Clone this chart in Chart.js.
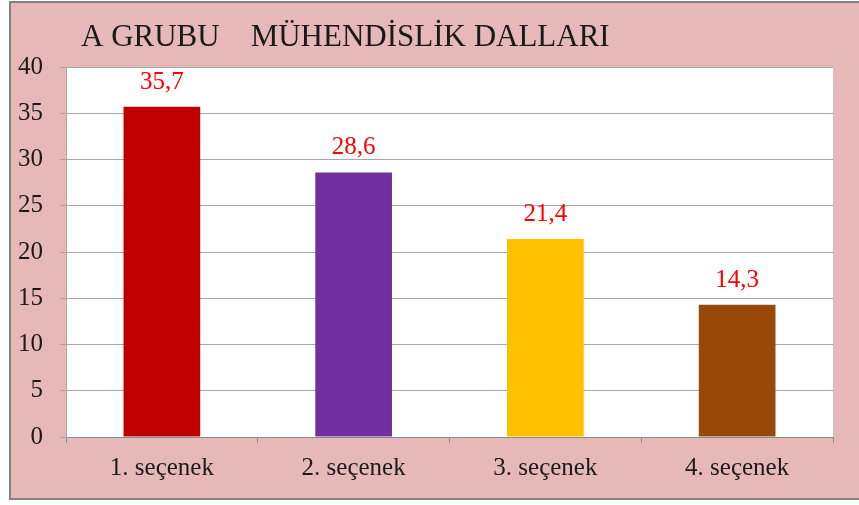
<!DOCTYPE html>
<html>
<head>
<meta charset="utf-8">
<script src="https://cdn.jsdelivr.net/npm/chart.js@4"></script>
<style>
    body { margin: 0; background: #fff; }
    .frame {
        position: absolute;
        left: 9px;
        top: 1px;
        width: 850px;
        height: 499px;
        box-sizing: border-box;
        background: #e6b9b8;
        border-left: 2px solid #808080;
        border-top: 2px solid #808080;
        border-bottom: 2px solid #808080;
    }
    .chart-box {
        position: absolute;
        left: 0;
        top: 0;
        width: 859px;
        height: 505px;
    }
</style>
</head>
<body>
<div class="frame"></div>
<div class="chart-box"><canvas id="grupChart"></canvas></div>
<script>
const categories = ['1. seçenek', '2. seçenek', '3. seçenek', '4. seçenek'];
const values = [35.7, 28.6, 21.4, 14.3];
const barColors = ['#c00000', '#7030a0', '#ffc000', '#984807'];
const yTicks = [0, 5, 10, 15, 20, 25, 30, 35, 40];
const titleText = 'A GRUBU    MÜHENDİSLİK DALLARI';

Chart.defaults.font.family = '"Liberation Serif", "Times New Roman", serif';

// white plot area behind the grid
const plotBackground = {
    id: 'plotBackground',
    beforeDraw(chart) {
        const { ctx, chartArea } = chart;
        ctx.save();
        ctx.fillStyle = '#ffffff';
        ctx.fillRect(chartArea.left, chartArea.top, chartArea.right - chartArea.left, chartArea.bottom - chartArea.top);
        ctx.restore();
    }
};

// left aligned title like the original
const titleDraw = {
    id: 'titleDraw',
    afterDraw(chart) {
        const ctx = chart.ctx;
        ctx.save();
        ctx.font = '31px "Liberation Serif"';
        ctx.fillStyle = '#1a1a1a';
        ctx.textAlign = 'left';
        ctx.textBaseline = 'alphabetic';
        ctx.fillText(titleText, 81, 46);
        ctx.restore();
    }
};

const valueLabels = {
    id: 'valueLabels',
    afterDatasetsDraw(chart) {
        const ctx = chart.ctx;
        const meta = chart.getDatasetMeta(0);
        ctx.save();
        ctx.font = '25px "Liberation Serif"';
        ctx.fillStyle = '#ff0000';
        ctx.textAlign = 'center';
        ctx.textBaseline = 'alphabetic';
        meta.data.forEach((bar, i) => {
            ctx.fillText(String(values[i]).replace('.', ','), bar.x, bar.y - 18);
        });
        ctx.restore();
    }
};

const ctx = document.getElementById('grupChart').getContext('2d');
new Chart(ctx, {
    type: 'bar',
    data: {
        labels: categories,
        datasets: [{
            data: values,
            backgroundColor: barColors,
            borderWidth: 0,
            categoryPercentage: 1,
            barPercentage: 0.4
        }]
    },
    options: {
        responsive: true,
        maintainAspectRatio: false,
        animation: false,
        layout: {
            padding: { top: 67, right: 26, bottom: 0, left: 0 }
        },
        plugins: {
            legend: { display: false },
            title: { display: false },
            tooltip: { enabled: false }
        },
        scales: {
            x: {
                afterFit: scale => { scale.height = 68; },
                grid: {
                    drawOnChartArea: false,
                    tickLength: 6,
                    color: '#8c8c8c'
                },
                border: { color: '#8c8c8c' },
                ticks: {
                    color: '#1a1a1a',
                    padding: 10,
                    font: { size: 25 }
                }
            },
            y: {
                min: 0,
                max: 40,
                afterFit: scale => { scale.width = 66; },
                afterBuildTicks: scale => {
                    scale.ticks = yTicks.map(v => ({ value: v }));
                },
                grid: {
                    color: '#a6a6a6',
                    tickLength: 6
                },
                border: { color: '#a6a6a6' },
                ticks: {
                    color: '#1a1a1a',
                    padding: 17,
                    font: { size: 25 }
                }
            }
        }
    },
    plugins: [plotBackground, valueLabels, titleDraw]
});
</script>
</body>
</html>
